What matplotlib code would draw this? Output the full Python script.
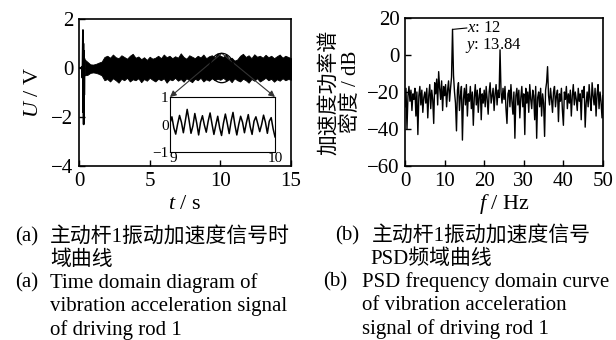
import numpy as np
import matplotlib
matplotlib.use("Agg")
import matplotlib.pyplot as plt
from matplotlib.patches import Ellipse

plt.rcParams["font.family"] = ["Liberation Serif", "Noto Sans CJK SC"]
plt.rcParams["mathtext.fontset"] = "custom"
plt.rcParams["mathtext.rm"] = "Liberation Serif"
plt.rcParams["mathtext.it"] = "Liberation Serif:italic"
plt.rcParams["axes.unicode_minus"] = True

# --- (a) time domain: start-up transient, then envelope of the vibration band
trans_t = [0.0, 0.15, 0.2, 0.24, 0.27, 0.28, 0.3, 0.31, 0.33, 0.35, 0.37, 0.4]
trans_u = [0.0, 0.0, 0.05, -0.4, 1.0, 1.55, -1.8, 1.0, -2.3, 0.7, -1.1, 0.35]

band_start, band_end = 0.4, 15.0
band_upper = [0.35, 0.25, 0.15, 0.14, 0.17, 0.22, 0.26, 0.45, 0.5, 0.42,
              0.55, 0.44, 0.4, 0.52, 0.45, 0.38, 0.5, 0.58, 0.42, 0.47,
              0.36, 0.44, 0.33, 0.46, 0.38, 0.42, 0.5, 0.4, 0.55, 0.44,
              0.5, 0.4, 0.48, 0.42, 0.6, 0.45, 0.38, 0.52, 0.46, 0.4,
              0.5, 0.43, 0.55, 0.4, 0.48, 0.52, 0.42, 0.6, 0.5, 0.45,
              0.55, 0.38, 0.42, 0.3, 0.35, 0.5, 0.58, 0.45, 0.52, 0.4,
              0.56, 0.46, 0.5, 0.42, 0.54, 0.44, 0.5, 0.4, 0.48, 0.55,
              0.42, 0.5, 0.45, 0.4]
band_lower = [-0.3, -0.28, -0.2, -0.18, -0.2, -0.24, -0.3, -0.5, -0.45, -0.55,
              -0.42, -0.5, -0.6, -0.44, -0.5, -0.4, -0.55, -0.46, -0.5, -0.42,
              -0.58, -0.45, -0.52, -0.4, -0.48, -0.55, -0.44, -0.5, -0.42, -0.6,
              -0.46, -0.5, -0.4, -0.52, -0.45, -0.56, -0.42, -0.5, -0.58, -0.44,
              -0.5, -0.4, -0.55, -0.46, -0.52, -0.42, -0.5, -0.44, -0.48, -0.4,
              -0.5, -0.45, -0.58, -0.42, -0.5, -0.55, -0.44, -0.5, -0.6, -0.45,
              -0.52, -0.42, -0.55, -0.48, -0.4, -0.5, -0.44, -0.56, -0.46, -0.52,
              -0.42, -0.5, -0.45, -0.48]

# zoomed window 9-10 s
zoom_u = [0.05, 0.28, -0.12, -0.35, 0.02, 0.33, 0.08, -0.3,
          0.12, 0.55, 0.15, -0.32, -0.05, 0.4, 0.05, -0.38,
          0.08, 0.32, -0.02, -0.28, 0.12, 0.42, 0.02, -0.36,
          -0.02, 0.3, -0.12, -0.4, 0.05, 0.38, 0.04, -0.33,
          0.12, 0.44, -0.02, -0.38, 0.0, 0.3, 0.08, -0.3,
          0.06, 0.36, -0.08, -0.36, 0.12, 0.28, 0.02, -0.26,
          0.0, 0.34, 0.08, -0.32, 0.12, 0.25, -0.15, -0.45]

# --- (b) PSD, 0.25 Hz steps from 0 to 50 Hz
psd_db = [-28, -18, -40, -22, -17, -25, -19, -30, -21, -24, -18, -33, -20, -43, -22, -17, -27, -19, -31, -23,
          -20, -26, -18, -34, -22, -16, -29, -19, -24, -37, -15, -21, -13, -27, -9, -18, -24, -14, -30, -17,
          -22, -16, -28, -19, -14, -25, -18, -12, 13.84, -11, -20, -26, -41, -19, -15, -30, -22, -17, -46, -24,
          -18, -27, -16, -33, -21, -25, -17, -29, -20, -38, -23, -16, -27, -19, -31, -22, -18, -35, -21, -26,
          -19, -28, -17, -24, -32, -20, -15, -26, -22, -18, -30, -21, -16, -27, -19, -23, 2.8, -20, -26, -18,
          -24, -17, -29, -37, -21, -19, -28, -16, -25, -32, -20, -45, -22, -18, -27, -19, -34, -23, -17, -28,
          -21, -43, -18, -26, -20, -31, -16, -24, -29, -19, -22, -35, -17, -45, -23, -20, -28, -18, -33, -21,
          -26, -44, -19, -15, -6.3, -22, -27, -18, -24, -31, -20, -17, -28, -22, -19, -36, -21, -25, -18, -30,
          -38, -20, -24, -17, -29, -21, -26, -19, -33, -22, -16, -27, -20, -24, -30, -18, -25, -21, -35, -19,
          -23, -17, -39, -26, -20, -28, -16, -24, -30, -15, -22, -27, -18, -33, -21, -16, -29, -20, -25, -34, -22]
peak_f, peak_db = 12, 13.84

cap_a_cn = ["主动杆1振动加速度信号时", "域曲线"]
cap_a_en = ["Time domain diagram of", "vibration acceleration signal", "of driving rod 1"]
cap_b_cn = ["主动杆1振动加速度信号", "PSD频域曲线"]
cap_b_en = ["PSD frequency domain curve", "of vibration acceleration", "signal of driving rod 1"]

W, H = 616, 340
fig = plt.figure(figsize=(W / 100, H / 100), dpi=100)


def px_axes(x0, y0, x1, y1):
    return fig.add_axes([x0 / W, 1 - y1 / H, (x1 - x0) / W, (y1 - y0) / H])


def style(ax, size=15):
    for s in ax.spines.values():
        s.set_linewidth(1.2)
    ax.tick_params(direction="in", length=4, width=1.0, labelsize=size, pad=4,
                   top=False, right=False)


# ---------------- (a)
ax1 = px_axes(79, 19, 291, 166)
t_band = np.linspace(band_start, band_end, len(band_upper))
ax1.fill_between(t_band, band_lower, band_upper, color="black", lw=0.6)
ax1.plot(trans_t, trans_u, color="black", lw=1.3)
ax1.set_xlim(0, 15)
ax1.set_ylim(-4, 2)
ax1.set_xticks([0, 5, 10, 15])
ax1.set_yticks([-4, -2, 0, 2])
style(ax1)
ax1.set_xlabel("$t$ / s", fontsize=16, labelpad=3)
ax1.set_ylabel("$U$ / V", fontsize=16)
ax1.yaxis.set_label_coords(-0.17, 0.5)

ax1.add_patch(Ellipse((10.1, 0.0), 1.7, 1.2, fill=False, ec="black", lw=0.9, zorder=5))

axin = px_axes(170, 97, 275, 152)
axin.plot(np.linspace(9, 10, len(zoom_u)), zoom_u, color="black", lw=1.1)
axin.set_xlim(9, 10)
axin.set_ylim(-1, 1)
axin.set_xticks([9, 10])
axin.set_yticks([-1, 0, 1])
for s in axin.spines.values():
    s.set_linewidth(0.8)
axin.tick_params(length=0, labelsize=11, pad=1)
axin.tick_params(axis="x", pad=0)
axin.get_xticklabels()[0].set_horizontalalignment("left")
axin.get_yticklabels()[0].set_verticalalignment("center_baseline")

for cx in (0, 1):
    ax1.annotate("", xy=(cx, 1), xycoords=axin.transAxes, xytext=(10.1, 0.6),
                 textcoords="data",
                 arrowprops=dict(arrowstyle="-|>", color="#333333", lw=0.8,
                                 mutation_scale=9, shrinkA=0, shrinkB=0))

# ---------------- (b)
ax2 = px_axes(405, 18, 603, 166)
f = np.linspace(0, 50, len(psd_db))
ax2.plot(f, psd_db, color="black", lw=1.0)
ax2.set_xlim(0, 50)
ax2.set_ylim(-60, 20)
ax2.set_xticks(range(0, 51, 10))
ax2.set_yticks([-60, -40, -20, 0, 20])
style(ax2)
ax2.set_xlabel("$f$ / Hz", fontsize=16, labelpad=1)
ax2.set_ylabel("加速度功率谱\n密度 / dB", fontsize=15, linespacing=1.15)
ax2.yaxis.set_label_coords(-0.22, 0.5)
ax2.plot([peak_f, 15.6], [peak_db, 14.6], color="black", lw=0.8)
ax2.text(15.7, 14.6, "$x$: %d" % peak_f, fontsize=12, va="center")
ax2.text(15.2, 5.0, "$y$: %.2f" % peak_db, fontsize=12, va="center")

# ---------------- captions
def cap(x, y, s):
    fig.text(x / W, 1 - y / H, s, fontsize=15, va="center", ha="left")


cap(15, 237, "(a)")
cap(50, 237, cap_a_cn[0])
cap(50, 260, cap_a_cn[1])
cap(15, 283, "(a)")
for i, s in enumerate(cap_a_en):
    cap(50, 283 + i * 23.5, s)

cap(335, 236, "(b)")
cap(372, 236, cap_b_cn[0])
cap(370, 259, cap_b_cn[1])
cap(323, 282, "(b)")
for i, s in enumerate(cap_b_en):
    cap(362, 282 + i * 23.5, s)

fig.savefig("out.png", dpi=100)
